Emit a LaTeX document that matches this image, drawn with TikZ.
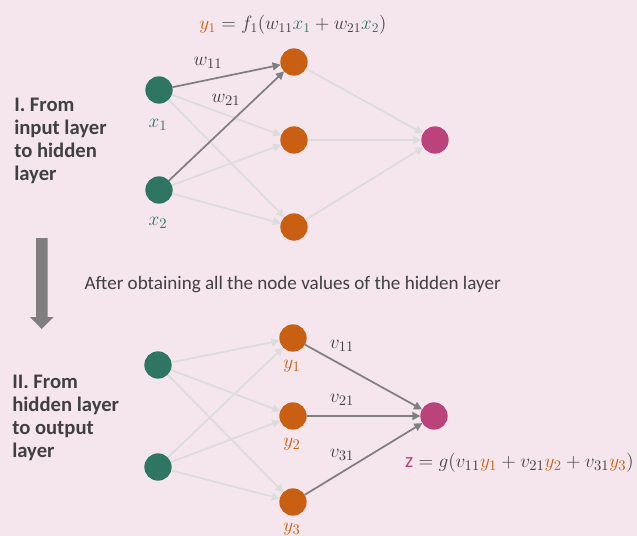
\documentclass[tikz,border=0pt]{standalone}
\usepackage{amsmath,amssymb}
\usepackage{fontspec}
\setmainfont{Carlito}
\usepackage{tikz}
\usepackage{xcolor}
\usetikzlibrary{arrows.meta}

\definecolor{bgpink}{HTML}{F5E6EE}
\definecolor{ingreen}{HTML}{2E7562}
\definecolor{hidorange}{HTML}{C85F12}
\definecolor{outmagenta}{HTML}{B9437A}
\definecolor{txtgray}{HTML}{404040}
\definecolor{lightline}{HTML}{DCDCDC}
\definecolor{darkline}{HTML}{7F7F7F}

\newcommand{\gx}[1]{\textcolor{ingreen}{#1}}
\newcommand{\oy}[1]{\textcolor{hidorange}{#1}}

\tikzset{
  neuron/.style={circle, minimum size=20.5pt, inner sep=0pt, outer sep=0pt},
  innode/.style={neuron, fill=ingreen},
  hidnode/.style={neuron, fill=hidorange},
  outnode/.style={neuron, fill=outmagenta},
  faint/.style={draw=lightline, line width=1.3pt, -{Triangle[length=6pt,width=6pt]}},
  strong/.style={draw=darkline, line width=1.3pt, -{Triangle[length=6pt,width=6pt]}},
  mathlbl/.style={text=txtgray, font=\fontsize{15.5}{18}\selectfont},
  sidetext/.style={anchor=north west, align=left, inner sep=0pt, text=txtgray,
    font=\fontsize{15.5}{17.3}\selectfont\bfseries}
}

\begin{document}
\begin{tikzpicture}[x=0.75pt,y=-0.75pt]
\fill[bgpink] (0,0) rectangle (637,536);
\useasboundingbox (0,0) rectangle (637,536);

% part I: input layer to hidden layer
\node[innode] (a1) at (159,90) {};
\node[innode] (a2) at (159,190) {};
\node[hidnode] (b1) at (294,62) {};
\node[hidnode] (b2) at (294,140) {};
\node[hidnode] (b3) at (294,227) {};
\node[outnode] (c) at (435,140) {};

\draw[faint] (a1) -- (b2);
\draw[faint] (a1) -- (b3);
\draw[faint] (a2) -- (b2);
\draw[faint] (a2) -- (b3);
\draw[faint] (b1) -- (c);
\draw[faint] (b2) -- (c);
\draw[faint] (b3) -- (c);
\draw[strong] (a1) -- (b1);
\draw[strong] (a2) -- (b1);

\node[mathlbl] (lx1) at (158,125) {$\gx{x_1}$};
\node[mathlbl] (lx2) at (158,223) {$\gx{x_2}$};
\node[mathlbl] (lw11) at (208,63) {$w_{11}$};
\node[mathlbl] (lw21) at (226,100) {$w_{21}$};
\node[mathlbl, font=\fontsize{14.7}{17}\selectfont] (eqy) at (293,25)
  {$\oy{y_1} = f_1(w_{11}\gx{x_1} + w_{21}\gx{x_2})$};

\node[sidetext] (head1) at (14,98) {I. From\\input layer\\to hidden\\layer};

% step between the two parts
\fill[darkline] (36,238) -- (47.5,238) -- (47.5,317) -- (53.5,317) -- (41.7,329)
  -- (30,317) -- (36,317) -- cycle;
\node[anchor=west, text=txtgray, font=\fontsize{14.3}{16}\selectfont] (step1) at (80,285)
  {After obtaining all the node values of the hidden layer};

% part II: hidden layer to output layer
\node[innode] (d1) at (158,365) {};
\node[innode] (d2) at (158,467) {};
\node[hidnode] (e1) at (293,338) {};
\node[hidnode] (e2) at (293,416) {};
\node[hidnode] (e3) at (293,502) {};
\node[outnode] (f) at (434,416) {};

\draw[faint] (d1) -- (e1);
\draw[faint] (d1) -- (e2);
\draw[faint] (d1) -- (e3);
\draw[faint] (d2) -- (e1);
\draw[faint] (d2) -- (e2);
\draw[faint] (d2) -- (e3);
\draw[strong] (e1) -- (f);
\draw[strong] (e2) -- (f);
\draw[strong] (e3) -- (f);

\node[mathlbl] (ly1) at (292,366) {$\oy{y_1}$};
\node[mathlbl] (ly2) at (292,444) {$\oy{y_2}$};
\node[mathlbl] (ly3) at (292,529) {$\oy{y_3}$};
\node[mathlbl] (lv11) at (342,346) {$v_{11}$};
\node[mathlbl] (lv21) at (342,400) {$v_{21}$};
\node[mathlbl] (lv31) at (342,455) {$v_{31}$};
\node[mathlbl, anchor=east, inner sep=0pt] (eqz) at (634,463)
  {$\textcolor{outmagenta}{\mathrm{z}} = g(v_{11}\oy{y_1} + v_{21}\oy{y_2} + v_{31}\oy{y_3})$};

\node[sidetext] (head2) at (12,375) {II. From\\hidden layer\\to output\\layer};
\end{tikzpicture}
\end{document}
